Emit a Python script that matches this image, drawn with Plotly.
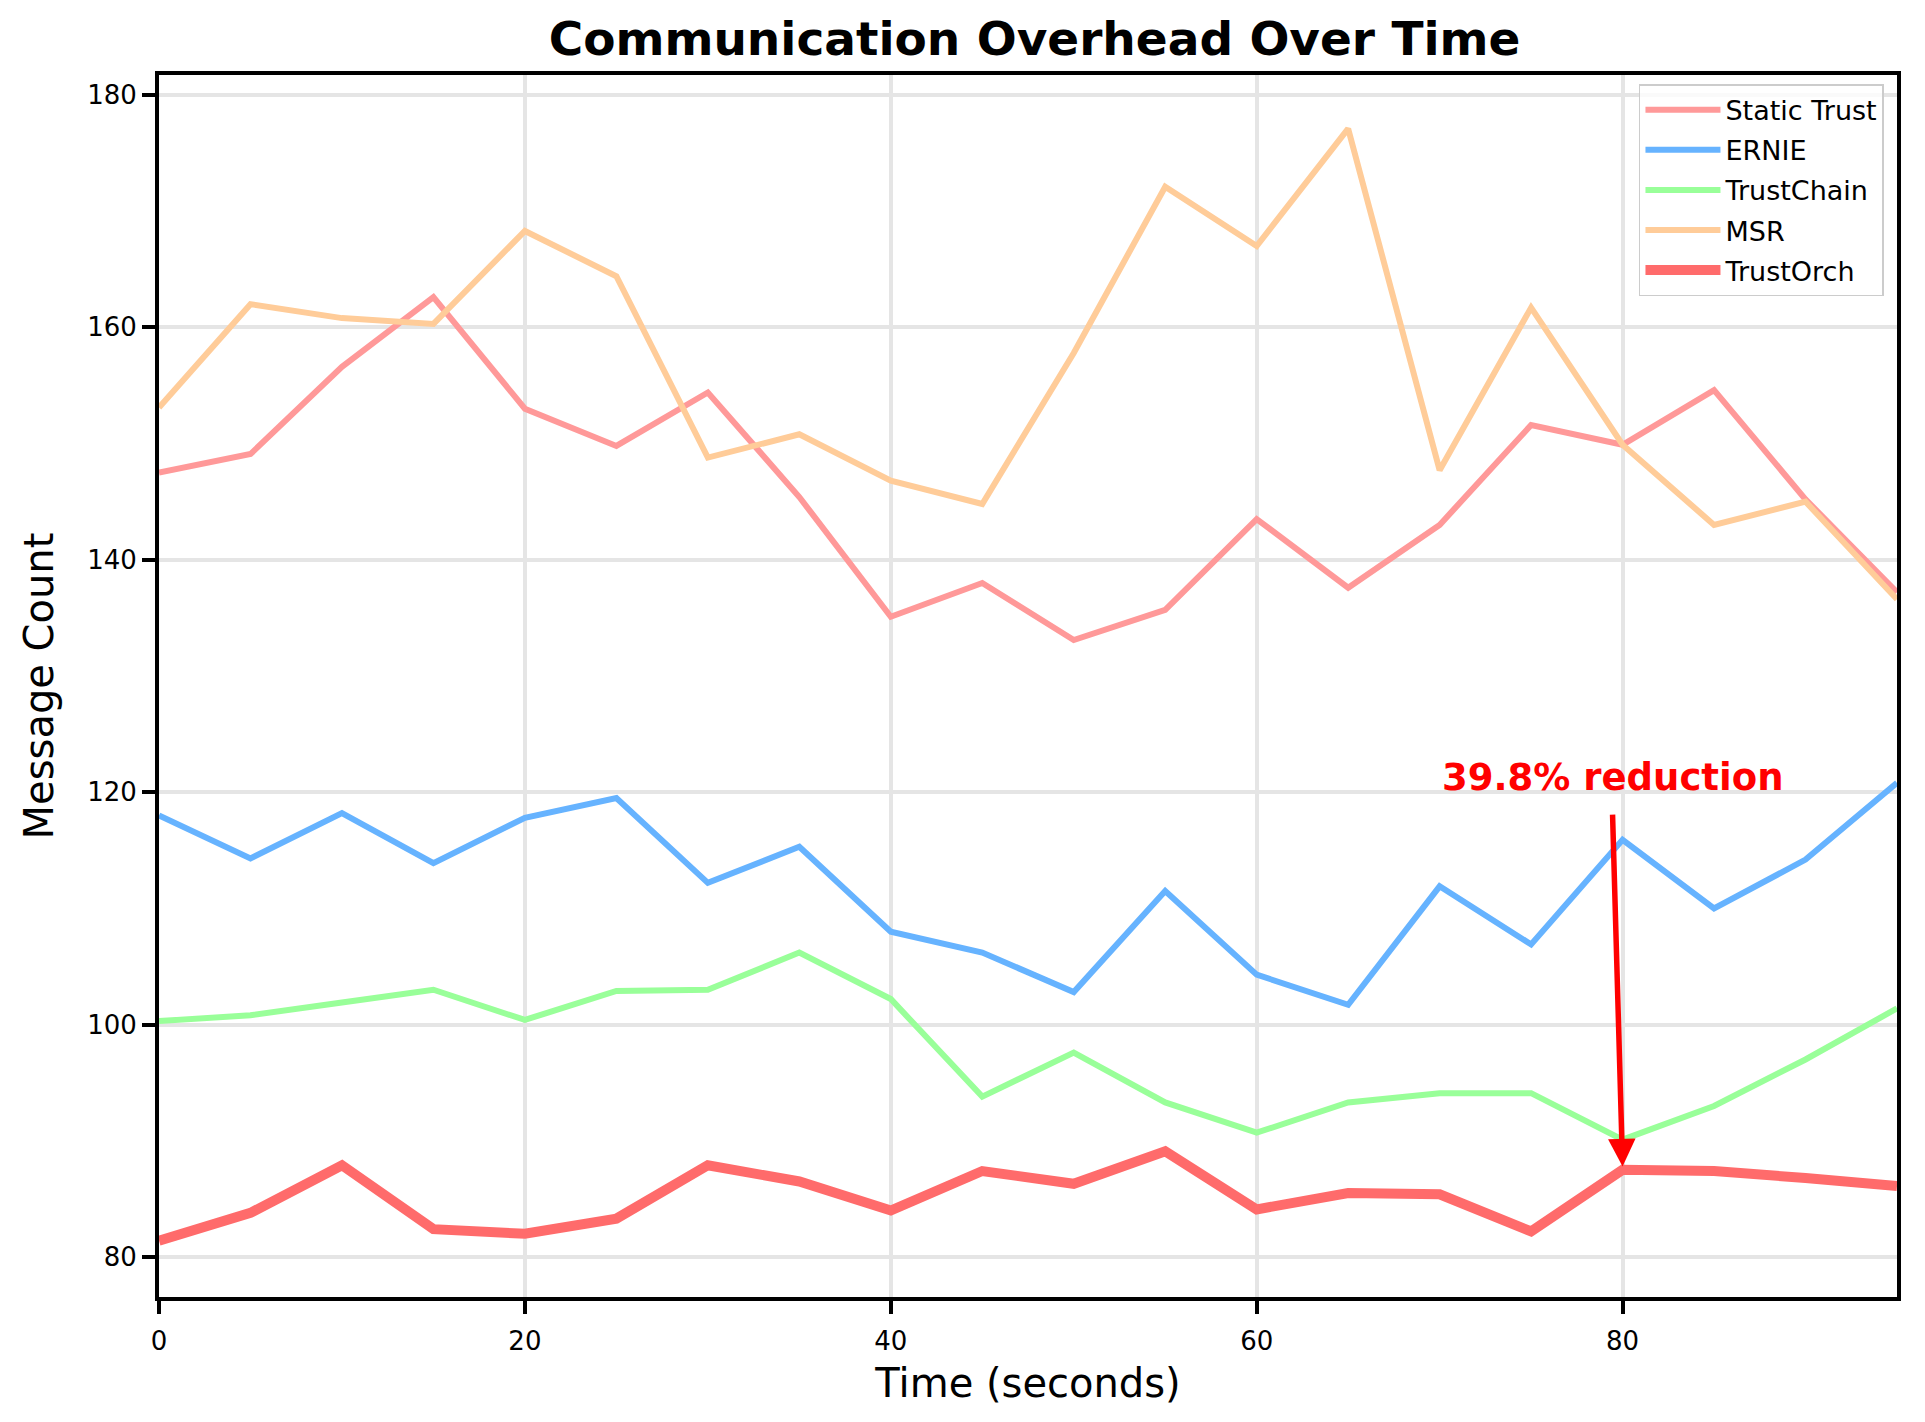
import plotly.graph_objects as go

time_s = [0, 5, 10, 15, 20, 25, 30, 35, 40, 45, 50, 55, 60, 65, 70, 75, 80, 85, 90, 95]

static_trust = [147.5, 149.1, 156.6, 162.6, 153.0, 149.8, 154.4, 145.4, 135.1, 138.0,
                133.1, 135.7, 143.5, 137.6, 143.0, 151.6, 149.9, 154.6, 145.2, 137.2]
ernie = [118.0, 114.3, 118.2, 113.9, 117.8, 119.5, 112.2, 115.3, 108.0, 106.2,
         102.8, 111.5, 104.3, 101.7, 111.9, 106.9, 115.9, 110.0, 114.2, 120.8]
trustchain = [100.3, 100.8, 101.9, 103.0, 100.4, 102.9, 103.0, 106.2, 102.2, 93.8,
              97.6, 93.3, 90.7, 93.3, 94.1, 94.1, 90.1, 93.0, 97.0, 101.4]
msr = [153.1, 162.0, 160.8, 160.3, 168.3, 164.4, 148.8, 150.8, 146.8, 144.8,
       157.8, 172.1, 167.0, 177.1, 147.7, 161.7, 149.9, 143.0, 145.0, 136.6]
trustorch = [81.4, 83.8, 87.9, 82.4, 82.0, 83.3, 87.9, 86.5, 84.0, 87.4,
             86.3, 89.1, 84.1, 85.5, 85.4, 82.2, 87.5, 87.4, 86.8, 86.1]

series_names = ["Static Trust", "ERNIE", "TrustChain", "MSR", "TrustOrch"]
series_values = [static_trust, ernie, trustchain, msr, trustorch]
series_colors = ["#ff9999", "#66b3ff", "#99ff99", "#ffcc99", "#ff6b6b"]
series_widths = [6, 6, 6, 6, 10]

x_ticks = [0, 20, 40, 60, 80]
y_ticks = [80, 100, 120, 140, 160, 180]

annotation_text = "39.8% reduction"
annotation_text_pos = (70, 120)
arrow_tail = (79.45, 118.2)
arrow_head = (80, 87.8)

FONT = "DejaVu Sans"

fig = go.Figure()
for name, vals, col, w in zip(series_names, series_values, series_colors, series_widths):
    fig.add_trace(go.Scatter(x=time_s, y=vals, mode="lines", name=name, legendgroup=name,
                             line=dict(color=col, width=w)))

axis_common = dict(
    showline=True, linecolor="black", linewidth=4, mirror=True,
    ticks="outside", ticklen=13, tickwidth=4, tickcolor="black",
    showgrid=True, gridcolor="#e5e5e5", gridwidth=3.5,
    zeroline=False,
    tickfont=dict(family=FONT, size=26, color="black"),
)

fig.update_xaxes(range=[0, 95], tickvals=x_ticks, ticklabelstandoff=5,
                 title=dict(text="Time (seconds)", font=dict(family=FONT, size=40, color="black"),
                            standoff=15),
                 **axis_common)
fig.update_yaxes(range=[76.56, 181.72], tickvals=y_ticks,
                 title=dict(text="Message Count", font=dict(family=FONT, size=40, color="black"),
                            standoff=22),
                 **axis_common)

fig.add_annotation(x=annotation_text_pos[0], y=annotation_text_pos[1], xref="x", yref="y",
                   text="<b>" + annotation_text + "</b>", showarrow=False,
                   xanchor="left", yanchor="bottom", yshift=-9,
                   font=dict(family=FONT, size=37, color="red"))
fig.add_annotation(x=arrow_head[0], y=arrow_head[1], xref="x", yref="y",
                   ax=arrow_tail[0], ay=arrow_tail[1], axref="x", ayref="y",
                   text="", showarrow=True, arrowhead=2, arrowsize=1, arrowwidth=5.5,
                   arrowcolor="red", standoff=0)

fig.update_layout(
    width=1917, height=1414,
    margin=dict(l=151, r=28, t=67, b=125, autoexpand=False),
    paper_bgcolor="white", plot_bgcolor="white",
    title=dict(text="<b>Communication Overhead Over Time</b>", x=0.5355, xanchor="center",
               y=1 - 31 / 1414, yanchor="middle", yref="container",
               font=dict(family=FONT, size=47, color="black")),
    legend=dict(x=0.9925, xanchor="right", y=0.9925, yanchor="top",
                bgcolor="rgba(255,255,255,0.8)", bordercolor="#cccccc", borderwidth=1.5,
                itemwidth=75, tracegroupgap=2, traceorder="grouped",
                font=dict(family=FONT, size=27, color="black")),
    showlegend=True,
)

fig.write_html("out.html")
